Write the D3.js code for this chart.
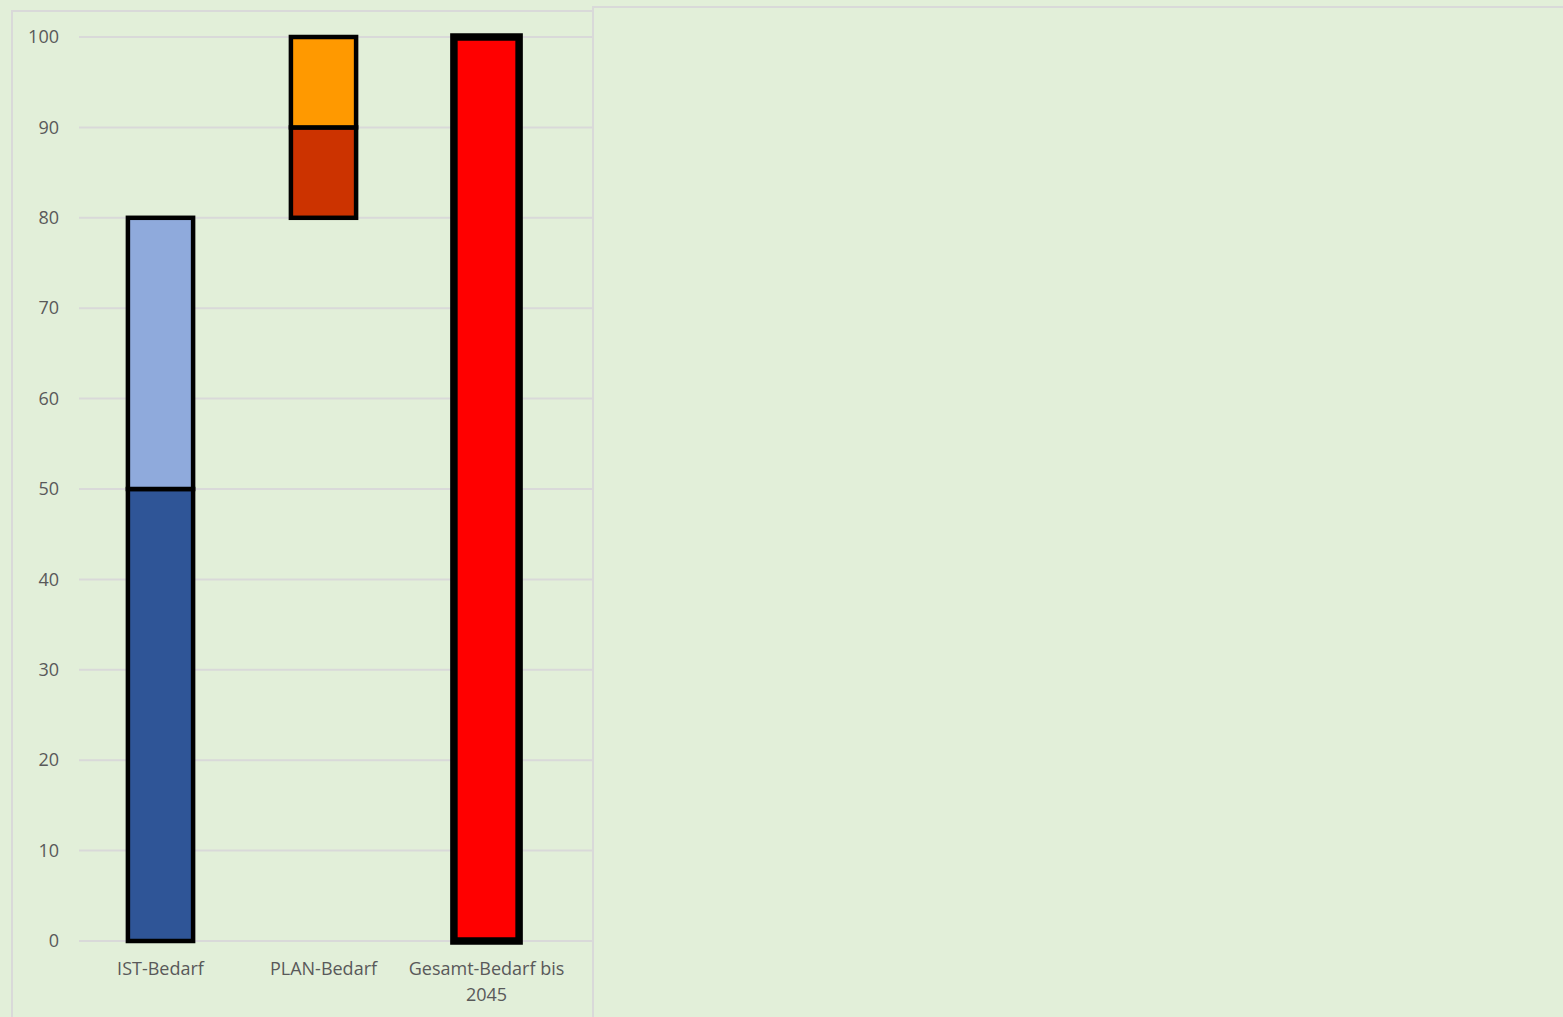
<!DOCTYPE html>
<html>
<head>
<meta charset="utf-8">
<script src="https://cdn.jsdelivr.net/npm/d3@7"></script>
<style>
  body { margin: 0; background: #e2efd9; overflow: hidden; }
  text { font-family: "Open Sans", Lato, sans-serif; fill: #595959; }
</style>
</head>
<body>
<script>
const Width = 1563;
const Height = 1017;

// chart data
const categories = ["IST-Bedarf", "PLAN-Bedarf", "Gesamt-Bedarf bis 2045"];
const seriesKeys = ["istBase", "istTop", "planBase", "planLow", "planHigh", "gesamt"];
const istBase  = [50, 0, 0];
const istTop   = [30, 0, 0];
const planBase = [0, 80, 0];   // invisible offset
const planLow  = [0, 10, 0];
const planHigh = [0, 10, 0];
const gesamt   = [0, 0, 100];
const yTicks = [0, 10, 20, 30, 40, 50, 60, 70, 80, 90, 100];

const colors = {
  istBase: "#2f5597",
  istTop: "#8faadc",
  planBase: "none",
  planLow: "#cc3300",
  planHigh: "#ff9900",
  gesamt: "#ff0000"
};
const strokeW = { istBase: 4.5, istTop: 4.5, planBase: 0, planLow: 4.5, planHigh: 4.5, gesamt: 7.5 };

const margin = { left: 79, top: 37 };
const innerWidth = 568 - margin.left;
const innerHeight = 941 - margin.top;

const svg = d3.select("body").append("svg")
  .attr("width", Width)
  .attr("height", Height);

// panels
svg.append("rect")
  .attr("x", 12).attr("y", 11)
  .attr("width", 581).attr("height", 1020)
  .attr("fill", "#e2efd9")
  .attr("stroke", "#d9d9d9").attr("stroke-width", 2);
svg.append("rect")
  .attr("x", 593).attr("y", 7)
  .attr("width", 1000).attr("height", 1030)
  .attr("fill", "#e2efd9")
  .attr("stroke", "#d9d9d9").attr("stroke-width", 2);

const g = svg.append("g")
  .attr("transform", `translate(${margin.left}, ${margin.top})`);

const table = categories.map((c, i) => ({
  cat: c,
  istBase: istBase[i], istTop: istTop[i], planBase: planBase[i],
  planLow: planLow[i], planHigh: planHigh[i], gesamt: gesamt[i]
}));

const xScale = d3.scaleBand()
  .domain(categories)
  .range([0, innerWidth])
  .paddingInner(0.6)
  .paddingOuter(0.3);

const yScale = d3.scaleLinear()
  .domain([0, 100])
  .range([innerHeight, 0]);

// gridlines
g.append("g")
  .selectAll("line")
  .data(yTicks)
  .join("line")
    .attr("x1", 0).attr("x2", 592 - margin.left)
    .attr("y1", d => yScale(d)).attr("y2", d => yScale(d))
    .attr("stroke", "#d9d9d9").attr("stroke-width", 2);

// y axis labels
const yAxis = d3.axisLeft(yScale)
  .tickValues(yTicks)
  .tickSize(0)
  .tickPadding(20);
const yAxisG = g.append("g").call(yAxis);
yAxisG.attr("font-family", null);
yAxisG.select(".domain").remove();
yAxisG.selectAll("text")
  .style("font-size", "18px")
  .attr("fill", "#595959");

// stacked bars
const stacked = d3.stack().keys(seriesKeys)(table);
const segs = [];
stacked.forEach(layer => layer.forEach(v => {
  if (v[1] - v[0] > 0 && layer.key !== "planBase") segs.push({ key: layer.key, v });
}));

g.append("g")
  .selectAll("rect")
  .data(segs)
  .join("rect")
    .attr("x", d => xScale(d.v.data.cat))
    .attr("y", d => yScale(d.v[1]))
    .attr("width", xScale.bandwidth())
    .attr("height", d => yScale(d.v[0]) - yScale(d.v[1]))
    .attr("fill", d => colors[d.key])
    .attr("stroke", "#000")
    .attr("stroke-width", d => strokeW[d.key]);

// x labels
const xLab = g.append("g")
  .selectAll("text")
  .data(categories)
  .join("text")
    .attr("text-anchor", "middle")
    .attr("x", d => xScale(d) + xScale.bandwidth() / 2)
    .attr("y", innerHeight + 34)
    .style("font-size", "18px");

xLab.each(function(d) {
  const t = d3.select(this);
  if (d === "Gesamt-Bedarf bis 2045") {
    t.append("tspan").attr("x", t.attr("x")).text("Gesamt-Bedarf bis");
    t.append("tspan").attr("x", t.attr("x")).attr("dy", 26).text("2045");
  } else {
    t.text(d);
  }
});
</script>
</body>
</html>
